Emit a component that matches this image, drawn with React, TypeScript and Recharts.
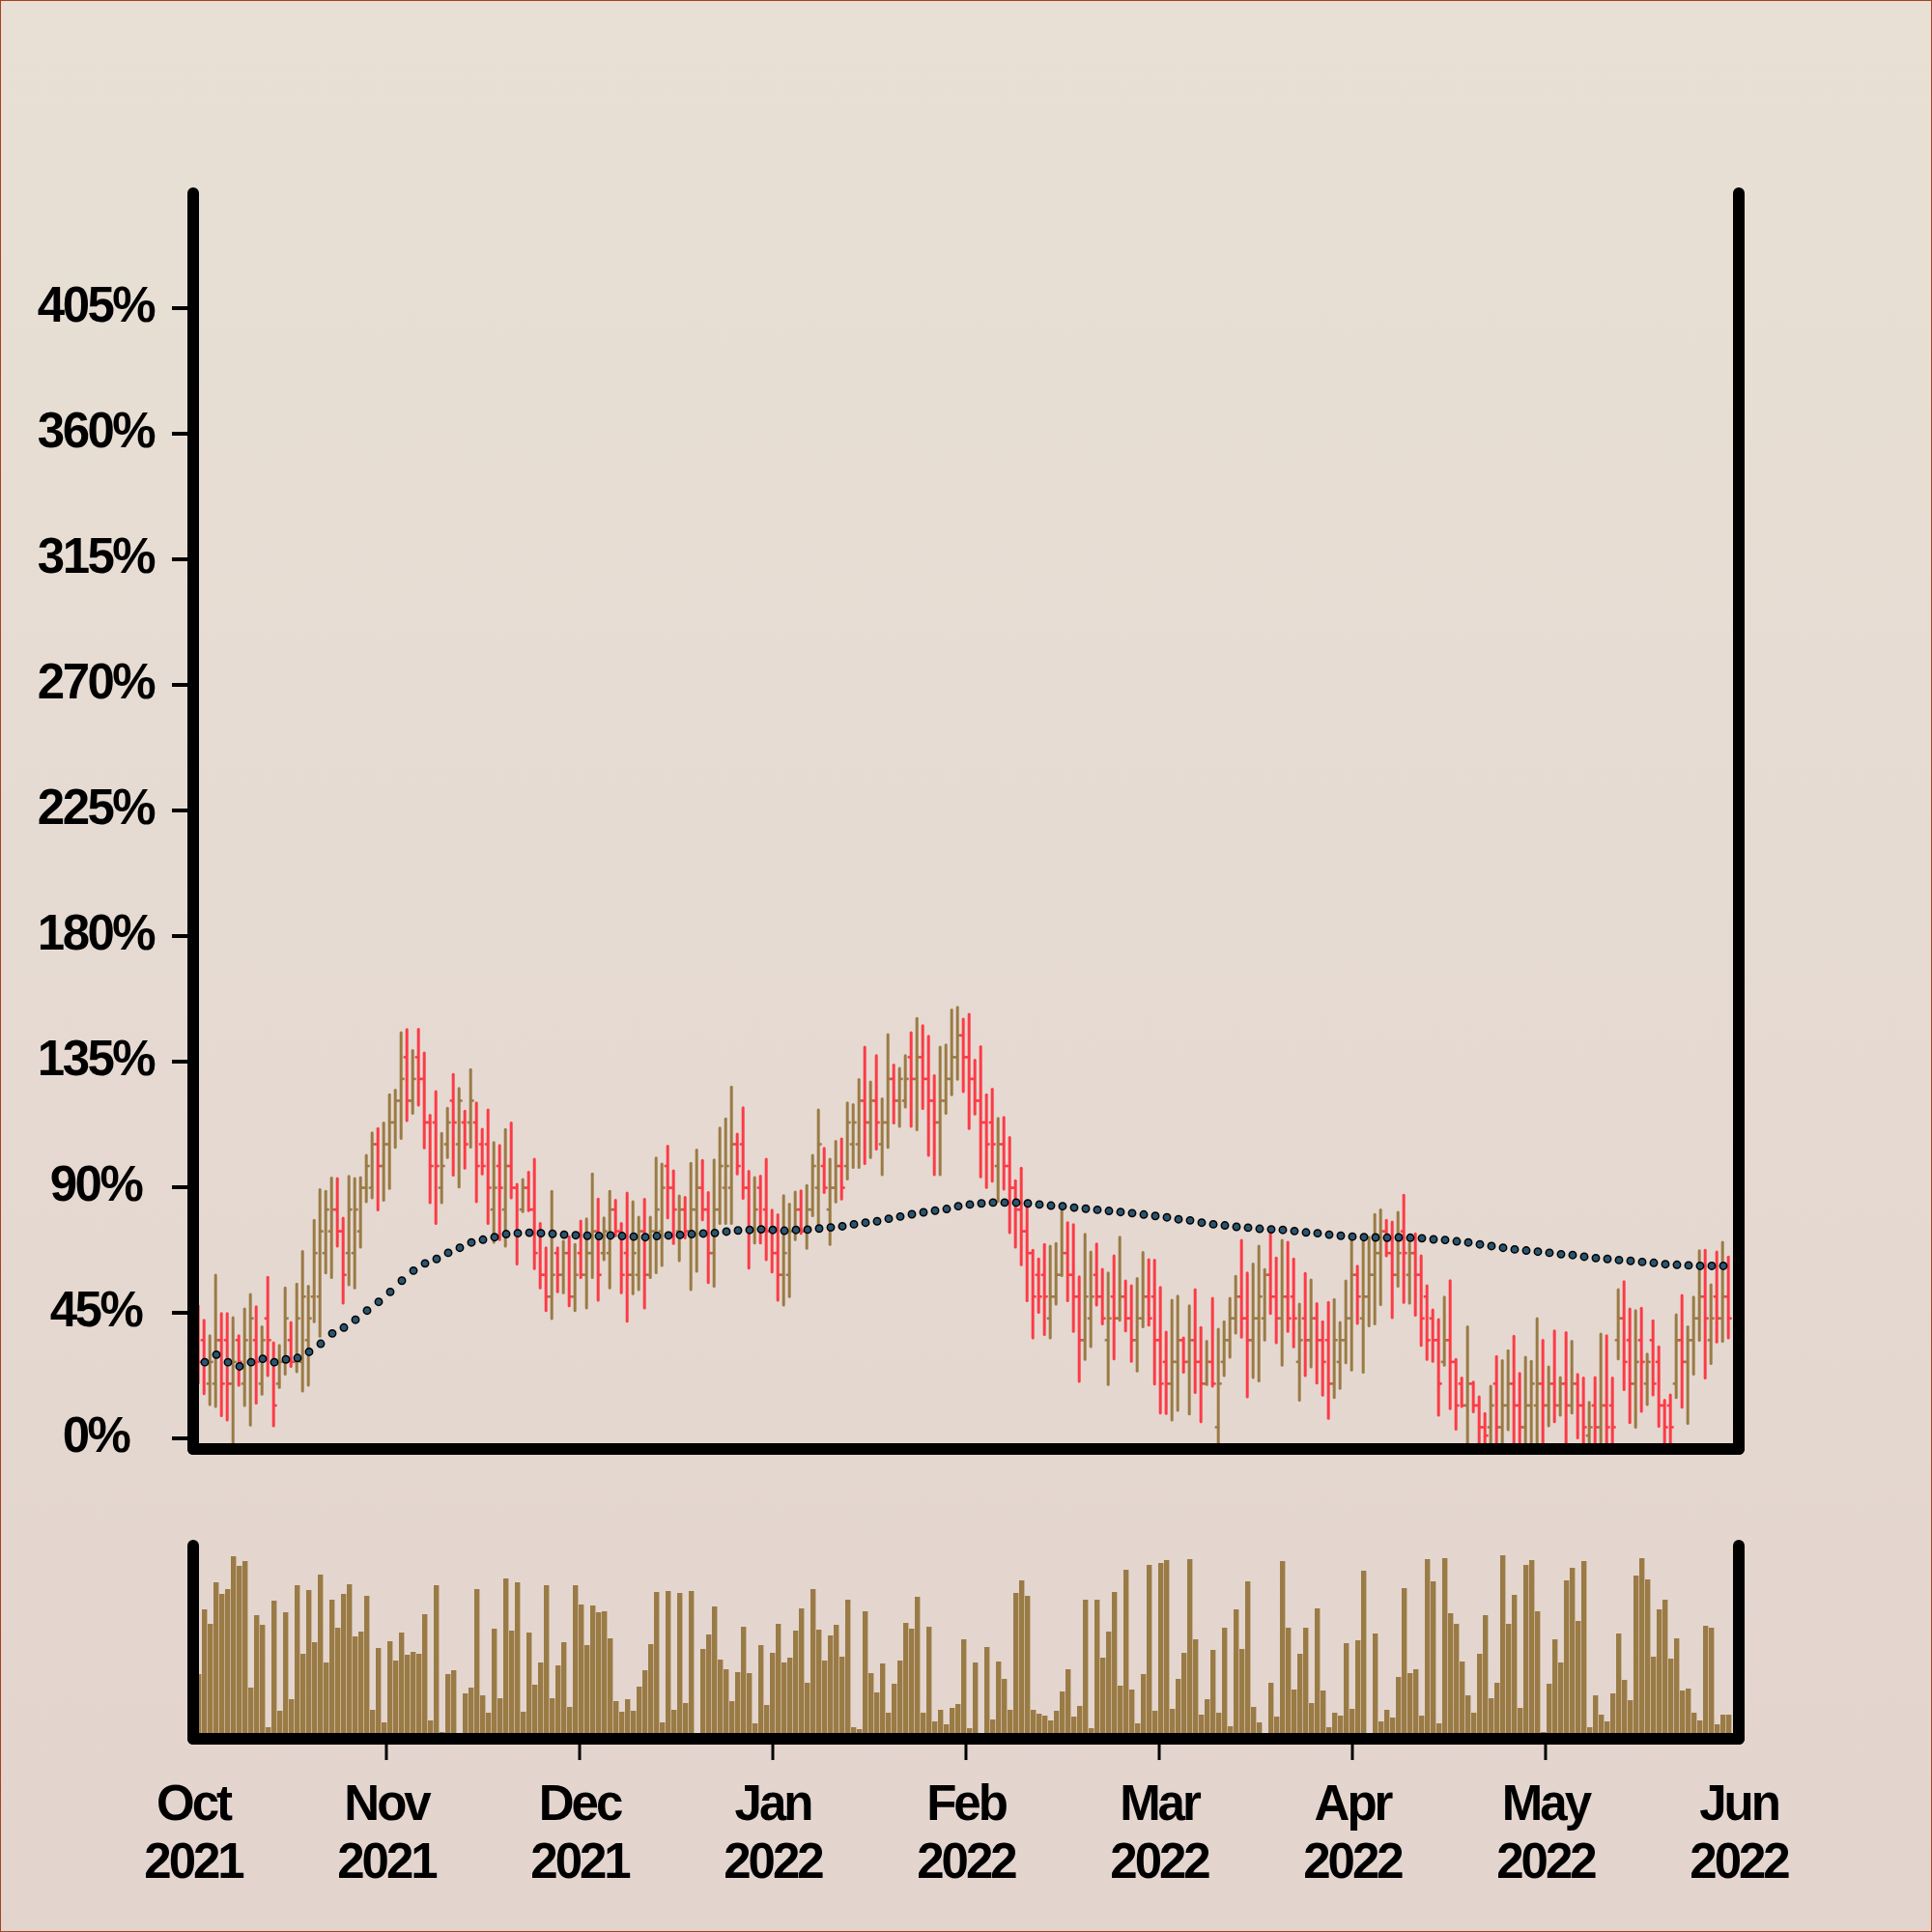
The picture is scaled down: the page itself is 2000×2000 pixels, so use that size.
import React from 'react';
import { ComposedChart, Bar, Line, XAxis, YAxis } from 'recharts';

// daily OHLC, in % (index 0 = first session)
const highs = [
  47.5, 42.3, 36.8, 58.5, 44.7, 44.7, 43.3, 36.8, 46.4, 51.6,
  47.2, 40.0, 57.7, 34.3, 33.3, 53.9, 41.5, 55.3, 67.0, 54.5,
  78.1, 89.1, 88.5, 93.3, 93.1, 78.9, 93.9, 93.1, 93.5, 101.4,
  109.5, 111.0, 113.0, 123.1, 124.8, 145.4, 146.5, 139.0, 146.6, 138.1,
  115.8, 124.3, 109.3, 118.3, 130.4, 125.4, 117.3, 132.1, 120.2, 110.8,
  117.7, 106.0, 105.0, 110.7, 113.0, 91.0, 92.8, 95.4, 100.0, 77.0,
  68.3, 88.5, 68.3, 70.6, 72.3, 69.5, 77.9, 78.7, 94.8, 85.8,
  79.0, 88.5, 85.3, 77.0, 87.9, 84.8, 79.3, 85.7, 79.3, 100.5,
  98.3, 104.7, 95.9, 86.9, 86.4, 98.6, 103.3, 99.6, 88.1, 99.8,
  111.2, 114.5, 125.9, 109.0, 118.5, 95.7, 93.5, 94.0, 100.0, 81.8,
  80.1, 87.0, 83.9, 88.3, 88.7, 90.6, 101.4, 117.7, 103.9, 100.0,
  106.4, 107.3, 120.2, 119.6, 128.6, 140.2, 127.7, 137.2, 121.7, 144.7,
  133.8, 132.6, 137.2, 145.4, 150.5, 147.9, 144.1, 130.0, 140.2, 141.0,
  153.5, 154.5, 150.2, 152.0, 135.5, 140.4, 123.1, 125.1, 114.7, 115.0,
  107.8, 92.3, 96.8, 85.0, 67.4, 64.3, 69.5, 68.9, 69.8, 82.5,
  77.3, 76.6, 57.9, 73.1, 66.8, 69.7, 60.6, 59.3, 65.4, 72.1,
  56.4, 54.7, 57.3, 66.6, 64.0, 63.9, 54.1, 38.1, 49.5, 51.0,
  36.0, 47.5, 53.3, 39.7, 34.8, 50.2, 39.1, 41.8, 50.2, 58.1,
  71.0, 59.3, 62.5, 68.9, 60.5, 73.5, 64.6, 71.0, 70.3, 64.3,
  48.1, 59.1, 56.8, 48.3, 41.8, 48.7, 49.8, 41.5, 56.4, 71.4,
  61.7, 71.2, 72.1, 80.2, 81.9, 78.1, 77.5, 81.0, 87.1, 70.0,
  73.3, 65.4, 54.7, 46.0, 42.6, 50.6, 56.5, 28.3, 21.6, 40.0,
  20.2, 14.9, 8.9, 18.7, 29.3, 27.9, 31.4, 36.6, 23.3, 29.1,
  27.6, 42.9, 35.1, 25.6, 38.5, 21.8, 37.9, 34.8, 22.9, 21.6,
  12.9, 21.8, 37.4, 36.8, 21.6, 53.3, 56.2, 46.4, 45.8, 46.6,
  30.2, 42.1, 32.8, 13.7, 15.6, 44.3, 51.2, 40.0, 50.6, 67.2,
  67.4, 55.0, 66.8, 70.3, 65.0,
];

const lows = [
  19.8, 16.0, 12.1, 11.4, 8.1, 6.6, -3, 19.0, 11.8, 4.8,
  12.6, 15.8, 22.5, 4.5, 18.3, 23.0, 25.8, 23.9, 17.0, 19.0,
  41.8, 36.6, 59.3, 57.6, 68.9, 48.5, 55.0, 53.9, 68.5, 84.8,
  86.2, 81.9, 85.3, 89.6, 104.3, 107.5, 113.9, 116.5, 119.4, 104.1,
  84.5, 77.0, 84.5, 100.6, 94.3, 90.1, 96.8, 104.4, 84.8, 94.8,
  77.0, 70.3, 71.2, 68.9, 86.2, 62.5, 81.3, 81.6, 60.8, 53.9,
  45.8, 42.9, 52.5, 52.2, 47.5, 45.8, 57.6, 46.7, 57.6, 49.5,
  64.0, 53.9, 72.6, 52.2, 42.0, 51.8, 53.3, 46.7, 57.6, 59.4,
  62.0, 79.0, 69.8, 63.7, 71.8, 53.3, 59.9, 78.3, 55.8, 54.5,
  77.0, 77.0, 77.0, 94.8, 86.0, 61.0, 70.0, 70.0, 64.0, 59.6,
  49.5, 47.8, 50.8, 71.2, 73.5, 68.1, 79.8, 76.4, 88.1, 69.5,
  84.7, 85.8, 92.9, 97.1, 97.1, 98.5, 100.6, 103.7, 94.5, 104.3,
  113.0, 111.8, 118.7, 111.8, 110.6, 118.2, 101.4, 94.5, 94.5, 116.5,
  123.1, 128.7, 124.3, 111.0, 116.2, 93.7, 89.9, 92.2, 85.0, 89.3,
  73.7, 68.5, 62.2, 49.3, 36.0, 45.2, 37.2, 36.0, 48.1, 58.3,
  49.3, 38.3, 20.4, 28.3, 32.9, 47.8, 41.0, 19.3, 28.5, 42.3,
  38.5, 27.6, 24.1, 40.0, 40.6, 19.5, 9.1, 8.9, 6.6, 10.0,
  23.7, 8.7, 16.4, 6.0, 19.3, 18.7, -3, 22.5, 29.1, 37.7,
  36.3, 14.9, 21.8, 20.6, 35.2, 44.7, 34.3, 26.2, 38.3, 32.8,
  13.7, 22.5, 25.6, 19.8, 15.5, 7.2, 14.6, 17.9, 27.1, 24.5,
  41.2, 23.7, 40.3, 41.0, 47.9, 65.4, 43.3, 54.5, 48.7, 48.5,
  44.1, 33.3, 28.3, 27.6, 8.3, 26.2, 10.6, 3.3, 11.4, -3,
  9.5, -3, -3, -3, -3, -3, 3.1, -3, -3, -3,
  -3, -3, -3, 4.5, 6.0, 8.3, -3, 9.1, 0.2, -3,
  -3, -3, -3, -3, -3, 28.5, 17.5, 5.6, 4.0, 9.7,
  12.1, 15.6, 4.3, -3, -3, 14.6, 11.2, 5.4, 23.0, 35.1,
  21.6, 26.8, 34.5, 34.8, 36.0,
];

const opens = [
  43, 35.2, 19.6, 19.6, 35.2, 35.2, 19.6, 35.2, 19.6, 27.4,
  35.2, 19.6, 43, 27.4, 19.6, 27.4, 35.2, 27.4, 27.4, 35.2,
  50.8, 50.8, 66.4, 74.2, 82, 74.2, 66.4, 66.4, 74.2, 89.8,
  89.8, 105.4, 97.6, 105.4, 113.2, 121, 136.6, 121, 136.6, 128.8,
  113.2, 113.2, 89.8, 105.4, 121, 105.4, 113.2, 113.2, 113.2, 105.4,
  105.4, 82, 97.6, 82, 97.6, 89.8, 82, 89.8, 82, 74.2,
  58.6, 50.8, 66.4, 58.6, 66.4, 50.8, 66.4, 58.6, 66.4, 74.2,
  66.4, 66.4, 82, 74.2, 66.4, 58.6, 58.6, 74.2, 58.6, 74.2,
  74.2, 97.6, 89.8, 74.2, 82, 74.2, 82, 89.8, 82, 66.4,
  82, 89.8, 89.8, 105.4, 105.4, 89.8, 74.2, 89.8, 82, 74.2,
  66.4, 58.6, 58.6, 74.2, 82, 74.2, 82, 89.8, 97.6, 82,
  89.8, 97.6, 97.6, 105.4, 105.4, 121, 113.2, 121, 105.4, 113.2,
  128.8, 121, 121, 136.6, 128.8, 136.6, 128.8, 121, 113.2, 121,
  128.8, 136.6, 144.4, 136.6, 128.8, 121, 113.2, 113.2, 97.6, 105.4,
  97.6, 89.8, 82, 74.2, 66.4, 58.6, 58.6, 43, 50.8, 58.6,
  66.4, 58.6, 50.8, 35.2, 43, 58.6, 50.8, 35.2, 50.8, 43,
  50.8, 43, 35.2, 43, 50.8, 50.8, 35.2, 27.4, 19.6, 27.4,
  35.2, 27.4, 35.2, 27.4, 19.6, 27.4, 4, 27.4, 35.2, 43,
  50.8, 43, 35.2, 43, 43, 58.6, 50.8, 43, 50.8, 50.8,
  27.4, 43, 35.2, 43, 35.2, 35.2, 19.6, 27.4, 35.2, 43,
  58.6, 43, 50.8, 58.6, 66.4, 74.2, 66.4, 58.6, 74.2, 58.6,
  66.4, 58.6, 50.8, 43, 35.2, 27.4, 35.2, 27.4, 19.6, 11.8,
  19.6, 11.8, 4, 4, 19.6, 4, 11.8, 19.6, 11.8, 4,
  11.8, 11.8, 19.6, 11.8, 19.6, 11.8, 19.6, 11.8, 19.6, 11.8,
  1, 11.8, 4, 11.8, 11.8, 35.2, 43, 35.2, 19.6, 35.2,
  19.6, 35.2, 27.4, 11.8, 11.8, 19.6, 35.2, 27.4, 35.2, 43,
  50.8, 35.2, 50.8, 43, 50.8,
];

const closes = [
  27.4, 27.4, 27.4, 35.2, 19.6, 19.6, 27.4, 27.4, 35.2, 43,
  27.4, 35.2, 35.2, 11.8, 27.4, 43, 27.4, 43, 50.8, 43,
  66.4, 74.2, 82, 82, 74.2, 58.6, 82, 82, 89.8, 97.6,
  105.4, 97.6, 105.4, 113.2, 121, 128.8, 121, 128.8, 128.8, 113.2,
  97.6, 97.6, 97.6, 113.2, 113.2, 121, 105.4, 121, 97.6, 97.6,
  89.8, 89.8, 89.8, 97.6, 89.8, 74.2, 89.8, 82, 66.4, 58.6,
  50.8, 58.6, 58.6, 66.4, 50.8, 58.6, 58.6, 66.4, 74.2, 58.6,
  74.2, 82, 74.2, 58.6, 58.6, 66.4, 74.2, 58.6, 74.2, 82,
  89.8, 89.8, 82, 82, 74.2, 82, 89.8, 82, 66.4, 82,
  97.6, 97.6, 105.4, 97.6, 89.8, 74.2, 82, 74.2, 74.2, 66.4,
  58.6, 66.4, 74.2, 82, 74.2, 82, 97.6, 105.4, 89.8, 89.8,
  97.6, 89.8, 113.2, 113.2, 121, 113.2, 121, 113.2, 113.2, 128.8,
  121, 128.8, 128.8, 128.8, 136.6, 128.8, 121, 113.2, 121, 128.8,
  136.6, 144.4, 136.6, 128.8, 121, 113.2, 105.4, 105.4, 105.4, 97.6,
  89.8, 82, 74.2, 66.4, 50.8, 50.8, 50.8, 50.8, 58.6, 66.4,
  58.6, 50.8, 35.2, 50.8, 50.8, 50.8, 43, 43, 43, 50.8,
  43, 35.2, 43, 50.8, 43, 35.2, 19.6, 19.6, 27.4, 35.2,
  27.4, 35.2, 27.4, 19.6, 27.4, 19.6, 19.6, 35.2, 43, 50.8,
  43, 35.2, 43, 50.8, 58.6, 50.8, 43, 50.8, 43, 43,
  35.2, 35.2, 43, 35.2, 27.4, 19.6, 35.2, 35.2, 43, 58.6,
  50.8, 50.8, 58.6, 66.4, 74.2, 66.4, 58.6, 66.4, 66.4, 66.4,
  58.6, 43, 35.2, 35.2, 19.6, 35.2, 27.4, 11.8, 11.8, 19.6,
  11.8, 4, 1, 11.8, 4, 11.8, 19.6, 11.8, 4, 11.8,
  19.6, 19.6, 11.8, 19.6, 11.8, 19.6, 11.8, 19.6, 11.8, 4,
  4, 4, 11.8, 4, 4, 43, 27.4, 19.6, 27.4, 27.4,
  27.4, 19.6, 11.8, 4, 4, 35.2, 27.4, 35.2, 43, 50.8,
  43, 43, 43, 50.8, 43,
];

const volumes = [
  67, 134, 119, 162, 150, 155, 189, 179, 184, 53,
  128, 118, 12, 143, 29, 131, 41, 159, 88, 154,
  100, 170, 79, 144, 115, 150, 160, 106, 111, 148,
  30, 94, 17, 101, 81, 110, 87, 90, 88, 129,
  19, 159, 7, 67, 71, 4, 47, 53, 155, 45,
  27, 114, 42, 166, 112, 162, 28, 110, 56, 79,
  159, 42, 76, 100, 33, 159, 139, 97, 138, 131,
  132, 104, 39, 28, 41, 29, 54, 71, 98, 152,
  17, 153, 30, 151, 37, 153, 4, 93, 108, 137,
  82, 72, 39, 69, 116, 68, 16, 97, 35, 89,
  119, 79, 84, 112, 135, 58, 155, 113, 81, 107,
  118, 85, 144, 12, 10, 132, 68, 48, 78, 27,
  57, 81, 120, 114, 147, 27, 116, 18, 30, 15,
  32, 36, 103, 11, 79, 4, 95, 20, 80, 62,
  30, 151, 164, 148, 30, 26, 24, 19, 29, 49,
  72, 23, 34, 144, 11, 144, 84, 111, 152, 55,
  175, 51, 16, 67, 180, 29, 182, 185, 31, 62,
  89, 186, 103, 25, 41, 92, 27, 115, 13, 134,
  93, 163, 33, 17, 4, 58, 23, 184, 115, 51,
  88, 115, 37, 135, 50, 12, 27, 24, 99, 31,
  102, 174, 4, 109, 18, 30, 22, 64, 156, 68,
  72, 24, 186, 163, 16, 187, 130, 119, 80, 45,
  27, 88, 128, 42, 58, 190, 119, 149, 32, 180,
  185, 132, 7, 57, 103, 79, 164, 177, 122, 184,
  12, 45, 25, 18, 47, 109, 61, 40, 169, 187,
  165, 85, 134, 144, 83, 104, 50, 52, 27, 19,
  117, 115, 15, 25, 25,
];

// moving average, plotted on every second session (odd indexes)
const maValues = [
  27.3, 30.0, 27.3, 25.8, 27.3, 28.5, 27.3, 28.3, 28.8, 31.0,
  33.9, 37.6, 39.7, 42.5, 45.8, 48.9, 52.5, 56.5, 60.1, 62.7,
  64.3, 66.5, 68.3, 70.2, 71.2, 72.1, 73.2, 73.5, 73.7, 73.5,
  73.3, 73.0, 72.8, 72.6, 72.5, 72.7, 72.5, 72.3, 72.1, 72.5,
  72.7, 72.9, 73.2, 73.4, 73.6, 74.1, 74.5, 74.7, 74.9, 74.7,
  74.4, 74.7, 74.8, 75.2, 75.6, 76.0, 76.7, 77.3, 77.8, 78.7,
  79.5, 80.3, 81.0, 81.6, 82.2, 83.2, 83.8, 84.2, 84.5, 84.5,
  84.5, 84.2, 83.8, 83.4, 83.2, 82.7, 82.3, 81.9, 81.5, 81.1,
  80.7, 80.2, 79.7, 79.2, 78.5, 78.1, 77.3, 76.7, 76.3, 75.8,
  75.5, 75.1, 74.9, 74.7, 74.3, 73.8, 73.5, 73.0, 72.6, 72.3,
  72.1, 72.0, 71.9, 72.0, 71.9, 71.7, 71.3, 71.1, 70.6, 70.2,
  69.5, 68.9, 68.3, 67.7, 67.3, 66.9, 66.5, 66.0, 65.7, 65.1,
  64.6, 64.3, 63.9, 63.6, 63.2, 62.9, 62.4, 62.2, 62.0, 61.8,
  61.8, 61.8,
];

const monthLabels = ['Oct', 'Nov', 'Dec', 'Jan', 'Feb', 'Mar', 'Apr', 'May', 'Jun'];
const yearLabels = ['2021', '2021', '2021', '2022', '2022', '2022', '2022', '2022', '2022'];
const xTicks = [-1, 32.33, 65.67, 99, 132.33, 165.67, 199, 232.33, 265.67];
const yTicks = [0, 45, 90, 135, 180, 225, 270, 315, 360, 405];

const UP = '#9a7b45';
const DOWN = '#fc3b47';
const FONT = '"Liberation Sans", Arial, Helvetica, sans-serif';
const X_DOMAIN: [number, number] = [-1, 265.67];
const Y_DOMAIN: [number, number] = [-3.81, 446.19];
const frameLine = { stroke: '#000', strokeWidth: 12, strokeLinecap: 'round' as const };

const rows = highs.map((h, i) => ({
  i,
  high: h,
  low: lows[i],
  open: opens[i],
  close: closes[i],
  volume: volumes[i],
  ma: i % 2 === 1 ? maValues[(i - 1) / 2] : null,
}));

const OhlcShape = (props: any) => {
  const { x, y, width, height, payload } = props;
  if (x == null || y == null || !payload) return <g />;
  const cx = x + width / 2 - 0.5;
  const top = Math.min(y, y + height);
  const bottom = Math.max(y, y + height);
  const span = payload.high - payload.low;
  const toPx = (v: number) => top + ((payload.high - v) / span) * (bottom - top);
  const color = payload.close >= payload.open ? UP : DOWN;
  const yo = toPx(payload.open);
  const yc = toPx(payload.close);
  return (
    <g>
      <line x1={cx} x2={cx} y1={top} y2={bottom} stroke={color} strokeWidth={3} strokeLinecap="round" />
      <line x1={cx - 3.5} x2={cx} y1={yo} y2={yo} stroke={color} strokeWidth={2.5} />
      <line x1={cx} x2={cx + 3.5} y1={yc} y2={yc} stroke={color} strokeWidth={2.5} />
    </g>
  );
};

const MaDot = (props: any) => {
  const { cx, cy, index, payload } = props;
  if (cx == null || cy == null || payload == null || payload.ma == null) return <g key={`d${index}`} />;
  return <circle key={`d${index}`} cx={cx} cy={cy} r={3.7} fill="#2b5672" stroke="#000" strokeWidth={1.5} />;
};

const PercentTick = (props: any) => {
  const { y, payload } = props;
  return (
    <g>
      <line x1={178} x2={200} y1={y} y2={y} stroke="#000" strokeWidth={4} />
      <text x={99} y={y + 14} textAnchor="middle" fontFamily={FONT} fontWeight={700} fontSize={51} letterSpacing={-2.5} fill="#000">
        {`${payload.value}%`}
      </text>
    </g>
  );
};

const MonthTick = (props: any) => {
  const { x, payload } = props;
  const idx = xTicks.indexOf(payload.value);
  const interior = idx > 0 && idx < xTicks.length - 1;
  return (
    <g>
      {interior && <line x1={x} x2={x} y1={300} y2={322} stroke="#000" strokeWidth={3} />}
      <text x={x} y={384} textAnchor="middle" fontFamily={FONT} fontWeight={700} fontSize={51} letterSpacing={-3} fill="#000">
        {monthLabels[idx]}
      </text>
      <text x={x} y={444} textAnchor="middle" fontFamily={FONT} fontWeight={700} fontSize={51} letterSpacing={-3} fill="#000">
        {yearLabels[idx]}
      </text>
    </g>
  );
};

const App: React.FC = () => {
  return (
    <div
      style={{
        position: 'relative',
        width: 2000,
        height: 2000,
        background: 'linear-gradient(to bottom, #e8e0d5, #e3d4ce)',
        boxShadow: 'inset 0 0 0 1px #a4431f',
        overflow: 'hidden',
      }}
    >
      <style>{'body { margin: 0; }'}</style>

      <div style={{ position: 'absolute', left: 0, top: 0 }}>
        <ComposedChart width={2000} height={1530} data={rows} margin={{ top: 200, right: 0, bottom: 0, left: 0 }}>
          <Bar
            yAxisId="left"
            dataKey={(d: any) => [d.low, d.high]}
            shape={OhlcShape}
            barSize={6}
            isAnimationActive={false}
          />
          <Line
            yAxisId="left"
            dataKey="ma"
            stroke="none"
            dot={MaDot}
            activeDot={false}
            isAnimationActive={false}
          />
          <XAxis
            dataKey="i"
            type="number"
            domain={X_DOMAIN}
            allowDataOverflow
            ticks={xTicks}
            tick={false}
            tickLine={false}
            axisLine={frameLine}
            height={30}
          />
          <YAxis
            yAxisId="left"
            type="number"
            domain={Y_DOMAIN}
            allowDataOverflow
            ticks={yTicks}
            interval={0}
            width={200}
            tickLine={false}
            tick={<PercentTick />}
            axisLine={frameLine}
          />
          <YAxis
            yAxisId="right"
            orientation="right"
            type="number"
            domain={Y_DOMAIN}
            allowDataOverflow
            width={200}
            tick={false}
            tickLine={false}
            axisLine={frameLine}
          />
        </ComposedChart>
      </div>

      <div style={{ position: 'absolute', left: 0, top: 1500 }}>
        <ComposedChart width={2000} height={500} data={rows} margin={{ top: 100, right: 0, bottom: 0, left: 0 }}>
          <Bar yAxisId="left" dataKey="volume" fill={UP} barSize={6} isAnimationActive={false} />
          <XAxis
            dataKey="i"
            type="number"
            domain={X_DOMAIN}
            allowDataOverflow
            ticks={xTicks}
            interval={0}
            height={200}
            tickLine={false}
            tick={<MonthTick />}
            axisLine={frameLine}
          />
          <YAxis
            yAxisId="left"
            type="number"
            domain={[0, 200]}
            allowDataOverflow
            width={200}
            tick={false}
            tickLine={false}
            axisLine={frameLine}
          />
          <YAxis
            yAxisId="right"
            orientation="right"
            type="number"
            domain={[0, 200]}
            width={200}
            tick={false}
            tickLine={false}
            axisLine={frameLine}
          />
        </ComposedChart>
      </div>
    </div>
  );
};

export default App;
